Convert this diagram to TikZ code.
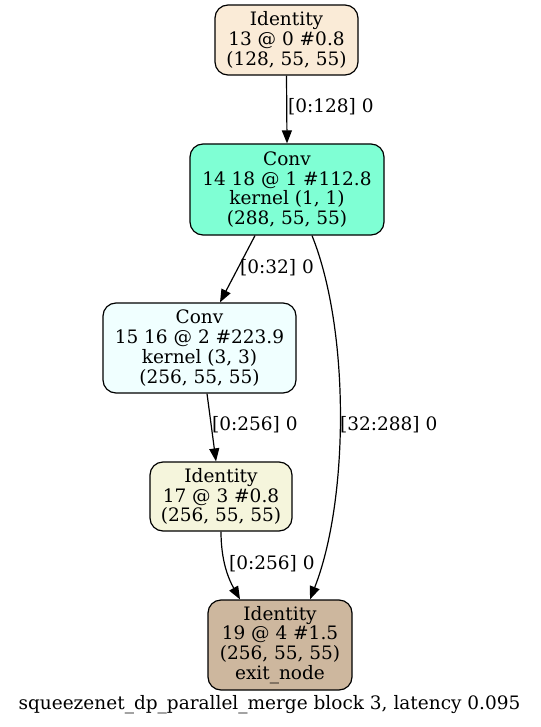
\documentclass[tikz,border=0pt]{standalone}
\usepackage{fontspec}
\setmainfont{DejaVu Serif}
\usetikzlibrary{arrows.meta,calc}
\definecolor{cAntique}{HTML}{FAEBD7}
\definecolor{cAqua}{HTML}{7FFFD4}
\definecolor{cAzure}{HTML}{F0FFFF}
\definecolor{cBeige}{HTML}{F5F5DC}
\definecolor{cBisque}{HTML}{CDB79E}
\tikzset{
  gvnode/.style={draw=black, line width=1.2pt, rounded corners=13pt, align=center, inner sep=0pt,
    font=\fontsize{18.5}{19.8}\selectfont},
  arr/.style={draw=black, line width=1.2pt, -{Triangle[length=13pt,width=10pt]}},
  elabel/.style={anchor=west, inner sep=0pt, font=\fontsize{18.5}{19.8}\selectfont},
}
\begin{document}
\begin{tikzpicture}[x=1pt,y=-1pt]
\useasboundingbox (0,0) rectangle (540,727);
\node[gvnode, fill=cAntique, minimum width=143pt, minimum height=70pt] (n13) at (286.5,40) {Identity\\13 @ 0 \#0.8\\(128, 55, 55)};
\node[gvnode, fill=cAqua, minimum width=194pt, minimum height=91pt] (n14) at (287,189.5) {Conv\\14 18 @ 1 \#112.8\\kernel (1, 1)\\(288, 55, 55)};
\node[gvnode, fill=cAzure, minimum width=193pt, minimum height=90pt] (n15) at (199.5,348) {Conv\\15 16 @ 2 \#223.9\\kernel (3, 3)\\(256, 55, 55)};
\node[gvnode, fill=cBeige, minimum width=142pt, minimum height=69pt] (n17) at (221,496.5) {Identity\\17 @ 3 \#0.8\\(256, 55, 55)};
\node[gvnode, fill=cBisque, minimum width=144pt, minimum height=90pt] (n19) at (280,645) {Identity\\19 @ 4 \#1.5\\(256, 55, 55)\\exit\_node};
\node[inner sep=0pt, font=\fontsize{18.5}{19.8}\selectfont] (cap) at (269.5,705) {squeezenet\_dp\_parallel\_merge block 3, latency 0.095};

\draw[arr] (n13.south) -- (n14.north);
\node[elabel] (l1) at (288,107) {[0:128] 0};

\draw[arr] ($(n14.south)+(-32,0)$) -- ($(n15.north)+(20.5,0)$);
\node[elabel] (l2) at (240,268) {[0:32] 0};

\draw[arr] ($(n15.south)+(7.5,0)$) -- ($(n17.north)+(-5,0)$);
\node[elabel] (l3) at (212,425) {[0:256] 0};

\draw[arr] ($(n14.south)+(25,0)$) .. controls (350,330) and (349,500) .. ($(n19.north)+(30,0)$);
\node[elabel] (l4) at (340,425) {[32:288] 0};

\draw[arr] (n17.south) .. controls (221,560) and (228,578) .. ($(n19.north)+(-40,0)$);
\node[elabel] (l5) at (229,564) {[0:256] 0};
\end{tikzpicture}
\end{document}
